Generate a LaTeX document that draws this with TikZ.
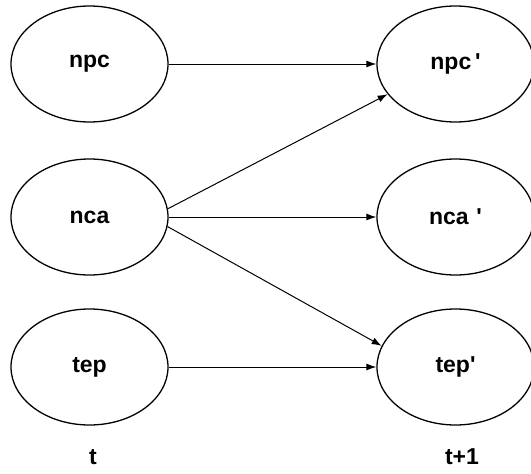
\documentclass[tikz,border=0pt]{standalone}
\usepackage{fontspec}
\setmainfont{Liberation Sans}
\usetikzlibrary{arrows.meta,shapes.geometric}
\tikzset{
  state/.style={draw, ellipse, line width=1.3pt, minimum width=157pt, minimum height=116pt,
    inner sep=0pt, font=\fontsize{23}{26}\selectfont\bfseries},
  edge/.style={line width=1pt, -{Latex[length=10pt,width=7pt]}},
  steplabel/.style={font=\fontsize{23}{26}\selectfont\bfseries}
}
\begin{document}
\begin{tikzpicture}[x=1pt,y=-1pt]
  \useasboundingbox (0,0) rectangle (531,474);
  % time slice t
  \node[state] (npc) at (89.5,64) {npc};
  \node[state] (nca) at (89.5,217) {nca};
  \node[state] (tep) at (89.5,367) {tep};
  % time slice t+1
  \node[state] (npcp) at (455.5,64) {npc\,\textquotesingle};
  \node[state] (ncap) at (455.5,217) {nca\,\,\textquotesingle};
  \node[state] (tepp) at (455.5,367) {tep\textquotesingle};
  % slice labels
  \node[steplabel] (lt) at (93,457) {t};
  \node[steplabel] (lt1) at (462,457) {t+1};
  % transitions
  \draw[edge] (npc.east) -- (npcp.west);
  \draw[edge] (nca.east) -- (ncap.west);
  \draw[edge] (tep.east) -- (tepp.west);
  \draw[edge] (nca.6) -- (npcp.204);
  \draw[edge] (nca.-7) -- (tepp.164);
\end{tikzpicture}
\end{document}
